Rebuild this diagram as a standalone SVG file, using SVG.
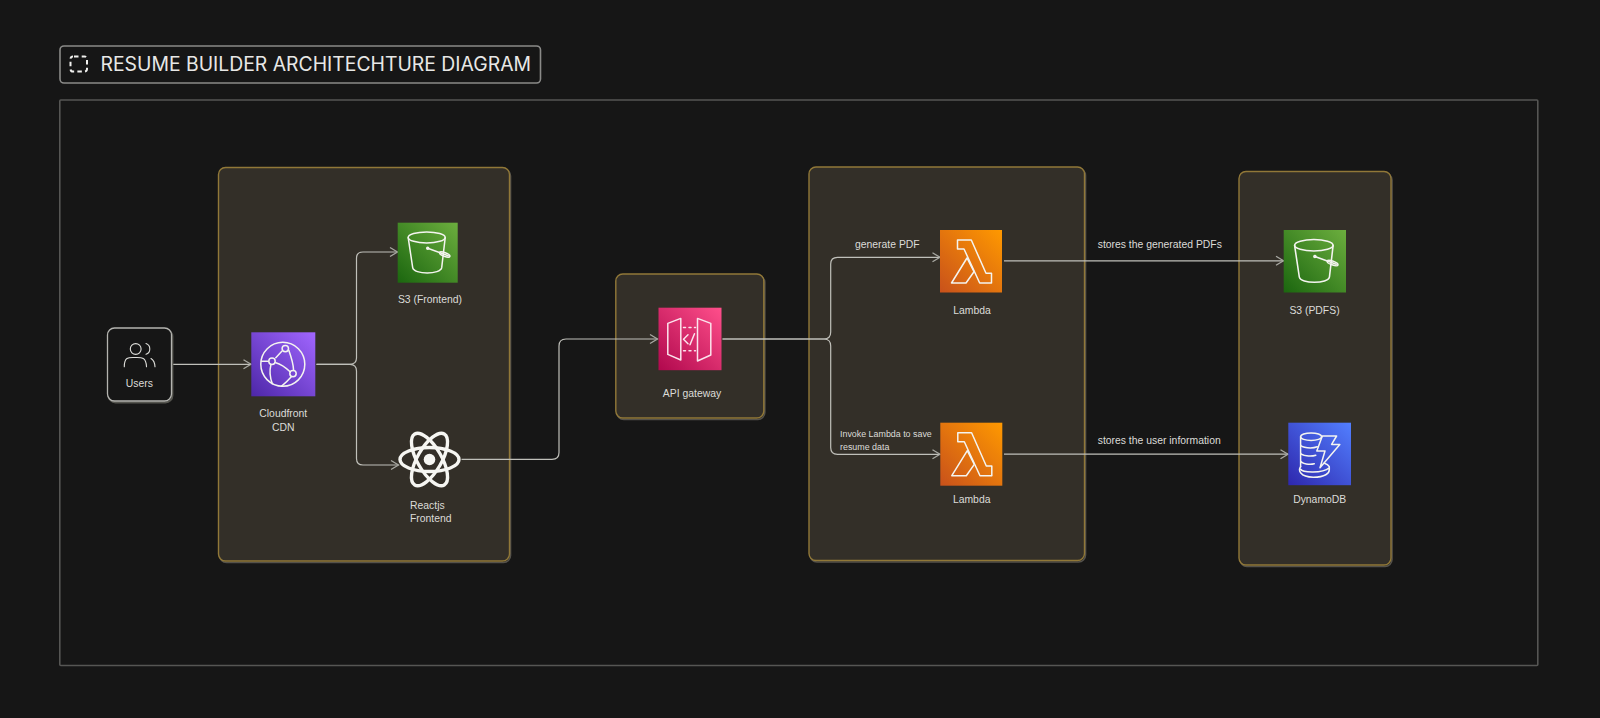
<svg xmlns="http://www.w3.org/2000/svg" width="1600" height="718" viewBox="0 0 1600 718">
<style>
text{font-family:"Liberation Sans",Arial,sans-serif;fill:#dcdcd8;font-size:10.4px}
.mid{text-anchor:middle}
.small{font-size:8.9px}
.title{font-family:Inter,"Liberation Sans",sans-serif;font-size:19.37px;fill:#e8e8e6}
.group{fill:#332f28;stroke:#917838;stroke-width:1.4}
.gshadow{fill:none;stroke:#55524b;stroke-width:1.6}
.conn{fill:none;stroke:#c0c0ba;stroke-width:1.2;marker-end:url(#arrow)}
.ic{fill:none;stroke:#f4f4f0;stroke-width:1.5;stroke-linejoin:round;stroke-linecap:round}
</style>
<defs>
<marker id="arrow" markerUnits="userSpaceOnUse" markerWidth="12" markerHeight="12" refX="9" refY="6" orient="auto">
<path d="M1.5 1.5 L9 6 L1.5 10.5" fill="none" stroke="#a8a8a2" stroke-width="1.3"/>
</marker>
<linearGradient id="gGreen" x1="0" y1="1" x2="1" y2="0"><stop offset="0" stop-color="#1b660f"/><stop offset="1" stop-color="#6cae3e"/></linearGradient>
<linearGradient id="gOrange" x1="0" y1="1" x2="1" y2="0"><stop offset="0" stop-color="#c8511b"/><stop offset="1" stop-color="#ff9900"/></linearGradient>
<linearGradient id="gPurple" x1="0" y1="1" x2="1" y2="0"><stop offset="0" stop-color="#4d27a8"/><stop offset="1" stop-color="#a166ff"/></linearGradient>
<linearGradient id="gPink" x1="0" y1="1" x2="1" y2="0"><stop offset="0" stop-color="#b0084d"/><stop offset="1" stop-color="#ff4f8b"/></linearGradient>
<linearGradient id="gBlue" x1="0" y1="1" x2="1" y2="0"><stop offset="0" stop-color="#2e27ad"/><stop offset="1" stop-color="#527fff"/></linearGradient>
<g id="bucket" class="ic">
<ellipse cx="29" cy="14.7" rx="18.5" ry="5.5"/>
<path d="M10.5 15 L15 45 C16 52 43 52 44 45 L47.5 15"/>
<circle cx="30" cy="25.5" r="1"/>
<path d="M30 25.5 L50.5 33"/>
<ellipse cx="47" cy="31.8" rx="5.5" ry="1.8" transform="rotate(20 47 31.8)"/>
</g>
<g id="lambda" class="ic">
<path d="M17.5 10 H31.3 L46 43.3 H51.5 V53 H39.7 L24 19 H17.5 Z"/>
<path d="M11.5 53 L27 28 L34 41.7 L26 53 Z"/>
</g>
</defs>

<rect width="1600" height="718" fill="#161616"/>

<g id="frame"><rect x="59.8" y="100" width="1478" height="565.5" rx="1" fill="none" stroke="#565654" stroke-width="1.6"/></g>

<g id="title">
<rect x="60" y="46" width="480.5" height="37" rx="4" fill="#161616" stroke="#8a8a88" stroke-width="1.6"/>
<rect x="70.5" y="56.5" width="16.5" height="15" rx="2.5" fill="none" stroke="#f0f0ee" stroke-width="2" stroke-dasharray="4.5 3.2" stroke-dashoffset="-1"/>
<text class="title" x="100.5" y="70.8">RESUME BUILDER ARCHITECHTURE DIAGRAM</text>
</g>

<g id="group-frontend"><rect class="gshadow" x="219.5" y="169" width="291" height="393.5" rx="7"/><rect class="group" x="218.5" y="167.5" width="291" height="393.5" rx="7"/></g>
<g id="group-api"><rect class="gshadow" x="616.8" y="275.5" width="148" height="144" rx="7"/><rect class="group" x="615.8" y="274" width="148" height="144" rx="7"/></g>
<g id="group-lambda"><rect class="gshadow" x="810" y="168.5" width="275.5" height="393.5" rx="7"/><rect class="group" x="809" y="167" width="275.5" height="393.5" rx="7"/></g>
<g id="group-storage"><rect class="gshadow" x="1240" y="173" width="152" height="393.5" rx="7"/><rect class="group" x="1239" y="171.5" width="152" height="393.5" rx="7"/></g>

<g id="connectors">
<path class="conn" d="M173 364.3 H251"/>
<path class="conn" d="M316.5 364.3 H350 Q356.5 364 356.5 358 V258 Q356.5 252 363 252 H397.5"/>
<path class="conn" d="M316.5 364.3 H350 Q356.5 364.5 356.5 371 V458.5 Q356.5 465 363 465 H398.5"/>
<path class="conn" d="M461.5 459.3 H552 Q559 459.3 559 452.5 V346 Q559 339 566 339 H657.5"/>
<path class="conn" d="M722.5 339 H824 Q830.7 339 830.7 332 V264 Q830.7 257.3 837.5 257.3 H940"/>
<path class="conn" d="M722.5 339 H824 Q830.7 339 830.7 346 V447.5 Q830.7 454.3 837.5 454.3 H940"/>
<path class="conn" d="M1004 260.8 H1283.5"/>
<path class="conn" d="M1004 454.2 H1288"/>
</g>

<g id="node-users">
<rect x="108.5" y="329.5" width="64" height="73" rx="7" fill="none" stroke="#55554f" stroke-width="1.8"/>
<rect x="107.5" y="328" width="64" height="73" rx="7" fill="#161616" stroke="#b4b4b0" stroke-width="1.3"/>
<g class="ic" style="stroke-width:1.1;stroke:#dededa">
<circle cx="135.7" cy="349" r="5.4"/>
<path d="M146 343.6 A5.6 5.6 0 0 1 146 354.2"/>
<path d="M124.3 366.7 C124.3 356.5 129 357.5 135 357.5 C141 357.5 146 356.5 146.5 366.7"/>
<path d="M151 358.5 C153.5 360 154.8 362.5 155 366.7"/>
</g>
<text class="mid" x="139.3" y="386.7">Users</text>
</g>

<g id="node-cloudfront">
<rect x="251.3" y="332.3" width="64" height="64" fill="url(#gPurple)"/>
<g class="ic" transform="translate(251.3 332.3)">
<circle cx="31.5" cy="32" r="22"/>
<circle cx="34" cy="16.3" r="3.2"/><circle cx="20.7" cy="29" r="3.2"/><circle cx="41.7" cy="41.3" r="3.2"/>
<path d="M30.5 19 L24.5 25.5 M24.5 30.5 C30 32 34 35 38.8 39.5 M37.5 18 C40 25 42 31 42.3 37.9 M17 29 H10 M19.5 33 C18 39 19 46 21 51.5 M40 44.5 C37 48 34 51 30 54"/>
</g>
<text class="mid" x="283.3" y="416.7">Cloudfront</text>
<text class="mid" x="283.3" y="430.5">CDN</text>
</g>

<g id="node-s3-frontend">
<rect x="397.7" y="222.7" width="60" height="60" fill="url(#gGreen)"/>
<use href="#bucket" x="397.7" y="222.7"/>
<text class="mid" x="430" y="303">S3 (Frontend)</text>
</g>

<g id="node-react">
<g fill="none" stroke="#f6f6f2" stroke-width="3.4">
<ellipse cx="429.5" cy="459.5" rx="29.5" ry="12"/>
<ellipse cx="429.5" cy="459.5" rx="29.5" ry="12" transform="rotate(60 429.5 459.5)"/>
<ellipse cx="429.5" cy="459.5" rx="29.5" ry="12" transform="rotate(120 429.5 459.5)"/>
</g>
<circle cx="429.5" cy="459.5" r="5.8" fill="#f6f6f2"/>
<text x="410" y="508.6">Reactjs</text>
<text x="410" y="522">Frontend</text>
</g>

<g id="node-api-gateway">
<rect x="658.5" y="307.7" width="63" height="62.5" fill="url(#gPink)"/>
<g class="ic" style="stroke:#fbe3ec" transform="translate(658.5 307.7)">
<path d="M9.3 15.7 L22.3 10.7 V52.3 L9.3 46.7 Z"/>
<path d="M39 10.7 L52.3 15.7 V47.3 L39 53.3 Z"/>
<path d="M25 19.7 H37 M25 43 H37" stroke-dasharray="2 3.5"/>
<path d="M29.5 27 L25 31.5 L29.5 36 M36 26 L31.5 37"/>
</g>
<text class="mid" x="692" y="396.7">API gateway</text>
</g>

<g id="node-lambda-pdf">
<rect x="940" y="230" width="62" height="62.5" fill="url(#gOrange)"/>
<use href="#lambda" x="940" y="230"/>
<text class="mid" x="972" y="313.7">Lambda</text>
</g>

<g id="node-lambda-save">
<rect x="940.3" y="422.7" width="62" height="63" fill="url(#gOrange)"/>
<use href="#lambda" x="940.3" y="422.7"/>
<text class="mid" x="971.7" y="503">Lambda</text>
</g>

<g id="node-s3-pdfs">
<rect x="1283.7" y="230" width="62.3" height="62.5" fill="url(#gGreen)"/>
<use href="#bucket" transform="translate(1283.7 230) scale(1.04)"/>
<text class="mid" x="1314.5" y="313.5">S3 (PDFS)</text>
</g>

<g id="node-dynamodb">
<rect x="1288.3" y="422.7" width="62.7" height="62.5" fill="url(#gBlue)"/>
<g class="ic" transform="translate(1288.3 422.7)">
<ellipse cx="22.8" cy="14" rx="10.5" ry="3.8"/>
<path d="M12.3 14 V44 M12.3 22 C13 25.5 24 26 29 24 M12.3 30 C13 33.5 23 34 27.5 32.5 M12.3 38 C13 41.5 22 42 26 41"/>
<path d="M12.3 44 C10 47 11 54.5 25 54.5 C37 54.5 41 50.5 41 47 V44 C40 42 38 41 36 40.5 M12.3 46.5 C14 50 34 51 41 45"/>
<path d="M34 13.3 H48.3 L43.3 21.7 H51.5 L31.7 45 L36.7 28.3 H28.5 Z"/>
</g>
<text class="mid" x="1319.7" y="503">DynamoDB</text>
</g>

<g id="connector-labels">
<text x="855" y="248">generate PDF</text>
<text class="small" x="840" y="437.3">Invoke Lambda to save</text>
<text class="small" x="840" y="449.7">resume data</text>
<text x="1097.7" y="247.7">stores the generated PDFs</text>
<text x="1097.7" y="444">stores the user information</text>
</g>
</svg>
